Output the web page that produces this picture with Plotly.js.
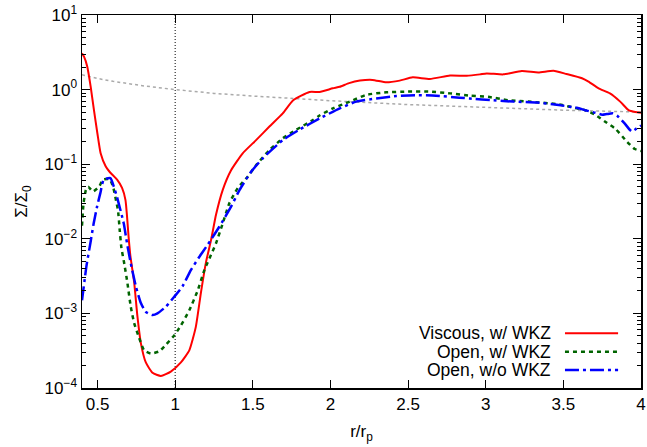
<!DOCTYPE html>
<html>
<head>
<meta charset="utf-8">
<script src="https://cdn.plot.ly/plotly-3.0.1.min.js"></script>
<style>html,body{margin:0;padding:0;background:#fff;}#plot{width:647px;height:447px;}</style>
</head>
<body>
<div id="plot"></div>
<script>
// ---- data ----
const viscousX = [0.40,0.413,0.434,0.456,0.477,0.499,0.52,0.553,0.58,0.626,0.658,0.68,0.69,0.70,0.712,0.736,0.757,0.779,0.811,0.854,0.908,0.972,1.037,1.091,1.133,1.166,1.198,1.231,1.263,1.306,1.36,1.435,1.521,1.607,1.693,1.76,1.865,1.93,2.015,2.06,2.12,2.19,2.27,2.36,2.446,2.53,2.64,2.77,2.877,2.963,3.006,3.113,3.232,3.339,3.436,3.52,3.62,3.662,3.727,3.80,3.866,3.92,3.963,4.0];
const viscousY = [3.06,2.76,2.03,1.09,0.53,0.26,0.14,0.093,0.078,0.062,0.048,0.033,0.020,0.0107,0.0058,0.0026,0.00091,0.00040,0.00022,0.00016,0.000145,0.000166,0.00022,0.00032,0.00066,0.0019,0.0048,0.0096,0.021,0.045,0.083,0.14,0.21,0.32,0.48,0.72,0.93,0.93,1.04,1.09,1.22,1.32,1.35,1.25,1.32,1.46,1.39,1.54,1.53,1.60,1.65,1.60,1.77,1.70,1.79,1.62,1.42,1.28,1.04,0.89,0.69,0.53,0.50,0.49];

const openWkzX = [0.40,0.41,0.425,0.44,0.47,0.51,0.535,0.578,0.60,0.62,0.632,0.643,0.654,0.671,0.692,0.714,0.736,0.768,0.80,0.843,0.897,0.94,0.995,1.037,1.091,1.144,1.188,1.241,1.263,1.306,1.349,1.403,1.467,1.521,1.607,1.693,1.78,1.887,1.93,2.016,2.124,2.23,2.36,2.49,2.64,2.77,2.898,3.016,3.145,3.275,3.47,3.587,3.64,3.705,3.77,3.834,3.91,3.96,4.0];
const openWkzY = [0.015,0.030,0.045,0.050,0.043,0.050,0.062,0.063,0.050,0.032,0.024,0.013,0.0075,0.0048,0.0026,0.00123,0.00074,0.00047,0.00032,0.00029,0.00031,0.00038,0.00051,0.00069,0.0011,0.0020,0.0038,0.0068,0.0087,0.016,0.030,0.048,0.068,0.097,0.155,0.222,0.29,0.39,0.45,0.56,0.69,0.85,0.92,0.94,0.94,0.89,0.83,0.80,0.72,0.69,0.635,0.56,0.53,0.46,0.37,0.30,0.20,0.16,0.15];

const openNoWkzX = [0.40,0.43,0.455,0.475,0.497,0.518,0.54,0.583,0.605,0.626,0.669,0.69,0.714,0.747,0.779,0.811,0.854,0.886,0.94,0.994,1.047,1.101,1.155,1.209,1.284,1.36,1.414,1.489,1.564,1.693,1.80,1.93,2.06,2.166,2.295,2.425,2.55,2.68,2.83,2.898,3.05,3.178,3.33,3.47,3.587,3.64,3.705,3.75,3.78,3.82,3.85,3.893,3.94,3.97,4.0];
const openNoWkzY = [0.0015,0.0045,0.009,0.016,0.027,0.041,0.062,0.065,0.050,0.036,0.016,0.0087,0.0047,0.0023,0.00138,0.00105,0.00095,0.0010,0.00123,0.00167,0.0023,0.0038,0.0057,0.0083,0.0145,0.027,0.045,0.079,0.12,0.21,0.29,0.41,0.56,0.69,0.76,0.82,0.84,0.83,0.78,0.76,0.72,0.69,0.67,0.62,0.57,0.53,0.49,0.46,0.47,0.48,0.44,0.355,0.275,0.30,0.33];

const refX = [0.4,0.5,0.6,0.8,1.0,1.25,1.5,2.0,2.5,3.0,3.5,4.0];
const refY = [1.58,1.41,1.29,1.12,1.0,0.89,0.82,0.71,0.63,0.58,0.53,0.50];

const planetX = [1, 1];
const planetY = [1e-4, 10];

const seriesNames = ["Viscous, w/ WKZ", "Open, w/ WKZ", "Open, w/o WKZ"];
const xTicks = [0.5,1,1.5,2,2.5,3,3.5,4];
const xTickText = ["0.5","1","1.5","2","2.5","3","3.5","4"];
const yTicks = [1e-4,1e-3,1e-2,1e-1,1,10];
const yTickText = ["10<sup>−4</sup>","10<sup>−3</sup>","10<sup>−2</sup>","10<sup>−1</sup>","10<sup>0</sup>","10<sup>1</sup>"];

// ---- styles ----
const colors = ["#ff0000", "#006400", "#0000ff"];
const dashes = ["solid", "4px,4px", "14px,4px,3px,4px"];
const widths = [2, 2.5, 2.5];
const FONT = "Liberation Sans, Arial, sans-serif";
const FS = 17;

const traces = [
  {x: refX, y: refY, mode: "lines", line: {color: "#aaaaaa", width: 1.5, dash: "3px,3px"}, showlegend: false, hoverinfo: "skip"},
  {x: planetX, y: planetY, mode: "lines", line: {color: "#000000", width: 1, dash: "1px,2px"}, showlegend: false, hoverinfo: "skip"},
  {x: viscousX, y: viscousY, mode: "lines", name: seriesNames[0], line: {color: colors[0], width: widths[0], dash: dashes[0], shape: "spline", smoothing: 0.5}},
  {x: openWkzX, y: openWkzY, mode: "lines", name: seriesNames[1], line: {color: colors[1], width: widths[1], dash: dashes[1], shape: "spline", smoothing: 0.5}},
  {x: openNoWkzX, y: openNoWkzY, mode: "lines", name: seriesNames[2], line: {color: colors[2], width: widths[2], dash: dashes[2], shape: "spline", smoothing: 0.5}}
];

// manual gnuplot-style legend (text left, sample right)
const legY = [0.1466, 0.0973, 0.0483];
const annotations = seriesNames.map((n, i) => ({
  xref: "paper", yref: "paper", x: 0.8426, y: legY[i], xanchor: "right", yanchor: "middle",
  text: n, showarrow: false, font: {family: FONT, size: 17.5, color: "#000"}
}));
const shapes = seriesNames.map((n, i) => ({
  type: "line", xref: "paper", yref: "paper", x0: 0.864, x1: 0.959, y0: legY[i], y1: legY[i],
  line: {color: colors[i], width: widths[i], dash: dashes[i]}
}));

const layout = {
  width: 647, height: 447,
  margin: {l: 82, r: 6, t: 15, b: 59},
  paper_bgcolor: "#fff", plot_bgcolor: "#fff",
  showlegend: false,
  font: {family: FONT, size: FS, color: "#000"},
  xaxis: {
    range: [0.4, 4], tickvals: xTicks, ticktext: xTickText,
    ticks: "inside", ticklen: 8, tickwidth: 1, tickcolor: "#000",
    showline: true, linecolor: "#000", linewidth: 1.5, mirror: "allticks",
    showgrid: false, zeroline: false,
    tickfont: {family: FONT, size: FS},
    title: {text: "r/r<sub>p</sub>", font: {family: FONT, size: FS}, standoff: 12}
  },
  yaxis: {
    type: "log", range: [-4, 1], tickvals: yTicks, ticktext: yTickText,
    ticks: "inside", ticklen: 8, tickwidth: 1, tickcolor: "#000",
    showline: true, linecolor: "#000", linewidth: 1.5, mirror: "allticks",
    showgrid: false, zeroline: false,
    minor: {ticks: "inside", ticklen: 4, tickcolor: "#000", dtick: "D1", showgrid: false},
    tickfont: {family: FONT, size: FS},
    title: {text: "Σ/Σ<sub>0</sub>", font: {family: FONT, size: FS}, standoff: 12}
  },
  annotations: annotations,
  shapes: shapes
};

Plotly.newPlot("plot", traces, layout, {staticPlot: true, displayModeBar: false});
</script>
</body>
</html>
